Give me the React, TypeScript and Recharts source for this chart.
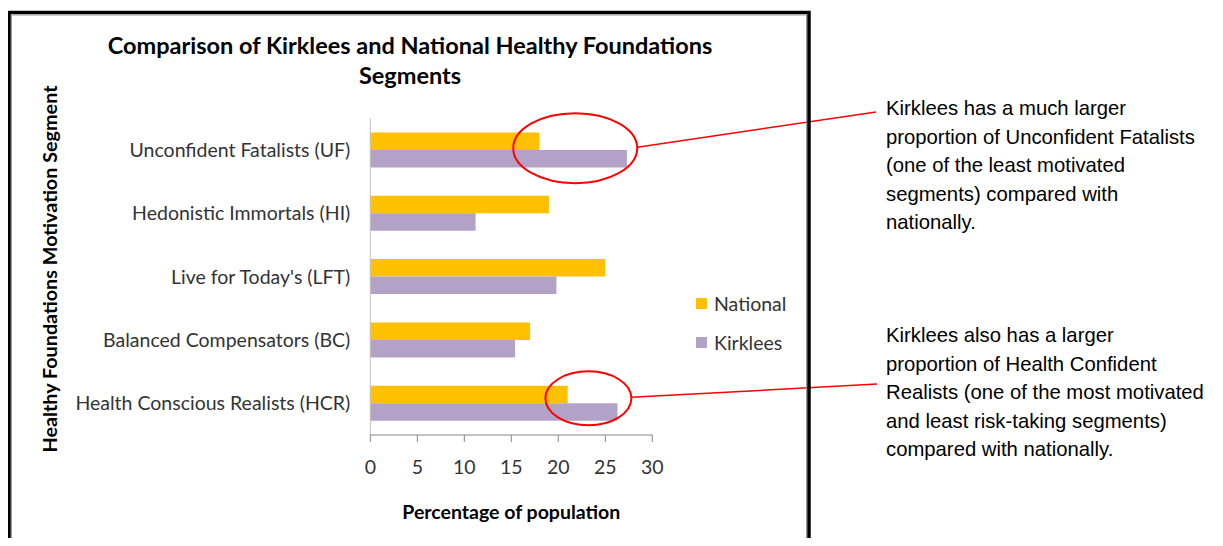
import React from 'react';
import {
  BarChart,
  Bar,
  XAxis,
  YAxis,
  Legend,
  ReferenceDot,
} from 'recharts';

const segments = [
  'Unconfident Fatalists (UF)',
  'Hedonistic Immortals (HI)',
  "Live for Today's (LFT)",
  'Balanced Compensators (BC)',
  'Health Conscious Realists (HCR)',
];
const national = [18, 19, 25, 17, 21];
const kirklees = [27.3, 11.2, 19.8, 15.4, 26.3];
const xTicks = [0, 5, 10, 15, 20, 25, 30];
const seriesOrder = ['National', 'Kirklees'];

const notes = [
  [
    'Kirklees has a much larger',
    'proportion of Unconfident Fatalists',
    '(one of the least motivated',
    'segments) compared with',
    'nationally.',
  ],
  [
    'Kirklees also has a larger',
    'proportion of Health Confident',
    'Realists (one of the most motivated',
    'and least risk-taking segments)',
    'compared with nationally.',
  ],
];

const chartData = segments.map((s, i) => ({
  segment: s,
  National: national[i],
  Kirklees: kirklees[i],
}));

const FONT = 'Lato, "Open Sans", sans-serif';
const W = 1223;
const H = 546;

const Circle = ({ rx, ry, dy, toX, toY }: any) => (props: any) => {
  const { cx, cy } = props;
  const y = cy + dy;
  return (
    <g>
      <ellipse cx={cx} cy={y} rx={rx} ry={ry} fill="none" stroke="#FF0000" strokeWidth={2} />
      <line x1={cx + rx} y1={y - 1} x2={toX} y2={toY} stroke="#FF0000" strokeWidth={1.5} />
    </g>
  );
};

const LegendBox = ({ payload }: any) => {
  const items = [...(payload || [])].sort(
    (a: any, b: any) => seriesOrder.indexOf(a.value) - seriesOrder.indexOf(b.value)
  );
  return (
    <div style={{ fontFamily: FONT, fontSize: 19.5, color: '#333', width: 110 }}>
      {items.map((p: any) => (
        <div key={p.value} style={{ display: 'flex', alignItems: 'center', height: 39 }}>
          <span style={{ width: 11, height: 11, background: p.color, marginRight: 7 }} />
          {p.value}
        </div>
      ))}
    </div>
  );
};

export default function App() {
  return (
    <div style={{ position: 'relative', width: W, height: H, margin: -8, background: '#fff', overflow: 'hidden' }}>
      <BarChart
        width={W}
        height={H}
        data={chartData}
        layout="vertical"
        margin={{ top: 118.5, right: 570.7, bottom: 0, left: 0 }}
        barSize={17.5}
        barGap={0}
      >
        <XAxis
          type="number"
          domain={[0, 30]}
          ticks={xTicks}
          height={111}
          stroke="#868686"
          tickSize={7}
          tickMargin={18}
          tick={{ fill: '#333', fontSize: 19.5, fontFamily: FONT }}
          label={{
            value: 'Percentage of population',
            position: 'insideTop',
            offset: 70,
            style: { fill: '#000', fontSize: 19.5, fontWeight: 700, fontFamily: FONT },
          }}
        />
        <YAxis
          type="category"
          dataKey="segment"
          width={370.3}
          stroke="#BFBFBF"
          tickLine={false}
          tickSize={0}
          tickMargin={20}
          tick={{ fill: '#333', fontSize: 19.5, fontFamily: FONT }}
        />
        <Legend
          layout="vertical"
          align="right"
          verticalAlign="middle"
          content={<LegendBox />}
          wrapperStyle={{ position: 'absolute', left: 696, top: 284, width: 0, height: 0, overflow: 'visible' }}
        />
        <Bar dataKey="National" fill="#FFC000" isAnimationActive={false} />
        <Bar dataKey="Kirklees" fill="#B3A2C7" isAnimationActive={false} />
        <ReferenceDot
          x={21.8}
          y={segments[0]}
          ifOverflow="visible"
          shape={Circle({ rx: 62, ry: 35, dy: -2, toX: 876, toY: 112 })}
        />
        <ReferenceDot
          x={23.2}
          y={segments[4]}
          ifOverflow="visible"
          shape={Circle({ rx: 43, ry: 27, dy: -5, toX: 877, toY: 384 })}
        />
      </BarChart>
      <svg
        width={W}
        height={H}
        style={{ position: 'absolute', left: 0, top: 0, pointerEvents: 'none' }}
      >
        <path d="M9 560 V12.5 H809 V560" fill="none" stroke="#000" strokeWidth={3.5} />
        <path d="M11.5 560 V15 H806.5 V560" fill="none" stroke="#999" strokeWidth={1} />
        <text x={410} y={48} textAnchor="middle" dominantBaseline="middle" fontFamily={FONT} fontSize={23.5} fontWeight={700}>
          Comparison of Kirklees and National Healthy Foundations
        </text>
        <text x={410} y={78} textAnchor="middle" dominantBaseline="middle" fontFamily={FONT} fontSize={23.5} fontWeight={700}>
          Segments
        </text>
        <text
          transform="translate(52 269) rotate(-90)"
          textAnchor="middle"
          dominantBaseline="middle"
          fontFamily={FONT}
          fontSize={19.8}
          fontWeight={700}
        >
          Healthy Foundations Motivation Segment
        </text>
        {notes.map((lines, k) =>
          lines.map((l, i) => (
            <text
              key={k + '-' + i}
              x={886}
              y={(k === 0 ? 110 : 337) + i * 28.4}
              dominantBaseline="middle"
              fontFamily='"Liberation Sans", Arial, sans-serif'
              fontSize={20.3}
              fill="#000"
            >
              {l}
            </text>
          ))
        )}
      </svg>
    </div>
  );
}
